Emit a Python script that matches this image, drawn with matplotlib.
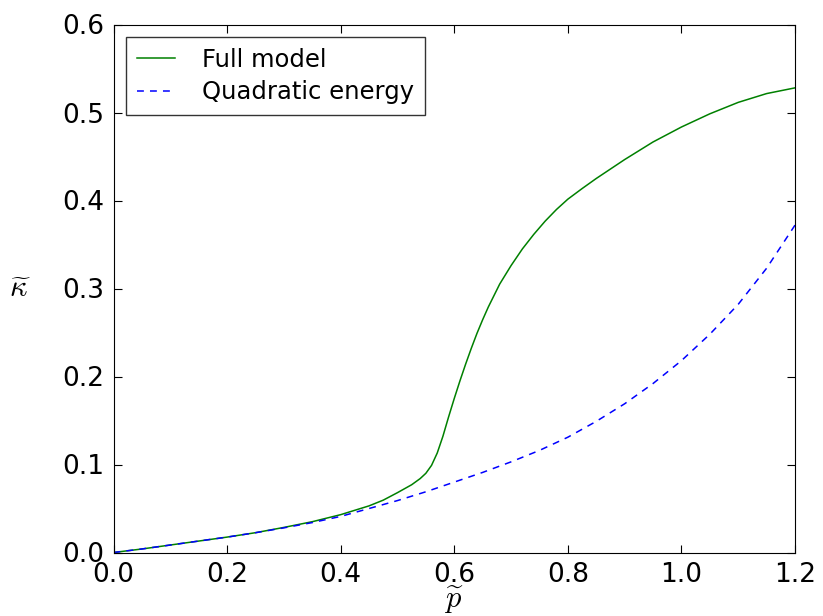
import numpy as np
import matplotlib
matplotlib.use("Agg")
import matplotlib.pyplot as plt

# values
p_full = [0.0, 0.05, 0.1, 0.15, 0.2, 0.25, 0.3, 0.35, 0.4, 0.45, 0.475, 0.5,
          0.525, 0.54, 0.55, 0.56, 0.57, 0.58, 0.59, 0.6, 0.61, 0.62, 0.63,
          0.64, 0.65, 0.66, 0.68, 0.7, 0.72, 0.74, 0.76, 0.78, 0.8, 0.825,
          0.85, 0.9, 0.95, 1.0, 1.05, 1.1, 1.15, 1.2]
k_full = [0.0, 0.004, 0.0085, 0.013, 0.0175, 0.0225, 0.0285, 0.035, 0.043,
          0.053, 0.0595, 0.068, 0.077, 0.084, 0.090, 0.099, 0.113, 0.132, 0.154,
          0.175, 0.195, 0.214, 0.232, 0.249, 0.2645, 0.279, 0.305, 0.326, 0.345,
          0.3615, 0.3765, 0.3898, 0.4015, 0.4135, 0.425, 0.4465, 0.4665, 0.4835,
          0.4985, 0.5115, 0.5215, 0.528]

p_quad = [0.0, 0.05, 0.1, 0.15, 0.2, 0.25, 0.3, 0.35, 0.4, 0.45, 0.5, 0.55,
          0.6, 0.65, 0.7, 0.75, 0.8, 0.85, 0.9, 0.95, 1.0, 1.05, 1.1, 1.15, 1.2]
k_quad = [0.0, 0.004, 0.0085, 0.013, 0.0175, 0.0225, 0.028, 0.034, 0.041,
          0.050, 0.059, 0.069, 0.080, 0.091, 0.103, 0.116, 0.131, 0.149, 0.169,
          0.192, 0.218, 0.248, 0.282, 0.323, 0.372]

labels = ["Full model", "Quadratic energy"]

plt.rcParams["font.family"] = "DejaVu Sans"
plt.rcParams["mathtext.fontset"] = "cm"

fig = plt.figure(figsize=(8.23, 6.16), dpi=100)
# axes box: x 113.5..795 px, y 24.5..552.5 px
ax = fig.add_axes([113.5 / 823, (616 - 552.5) / 616, 681.5 / 823, 528 / 616])

ax.plot(p_full, k_full, color="green", lw=1.1, label=labels[0])
ax.plot(p_quad, k_quad, color="blue", lw=1.1, ls="--", dashes=(4.5, 4),
        label=labels[1])

ax.set_xlim(0, 1.2)
ax.set_ylim(0, 0.6)
xt = np.arange(0, 1.21, 0.2)
yt = np.arange(0, 0.61, 0.1)
ax.set_xticks(xt)
ax.set_yticks(yt)
ax.set_xticklabels(["%.1f" % v for v in xt])
ax.set_yticklabels(["%.1f" % v for v in yt])
ax.tick_params(direction="in", top=True, right=True, length=6,
               labelsize=19, pad=7)

ax.set_xlabel(r"$\widetilde{p}$", fontsize=22, labelpad=-2)
ax.set_ylabel(r"$\widetilde{\kappa}$", fontsize=22, rotation=0, labelpad=30,
              va="center")

leg = ax.legend(loc="upper left", fontsize=17.5, fancybox=False,
                handlelength=1.6, handletextpad=1.1, labelspacing=0.35,
                borderpad=0.45, borderaxespad=0.5)
leg.get_frame().set_edgecolor("black")
leg.get_frame().set_linewidth(1.0)

fig.savefig("out.png", dpi=100)
